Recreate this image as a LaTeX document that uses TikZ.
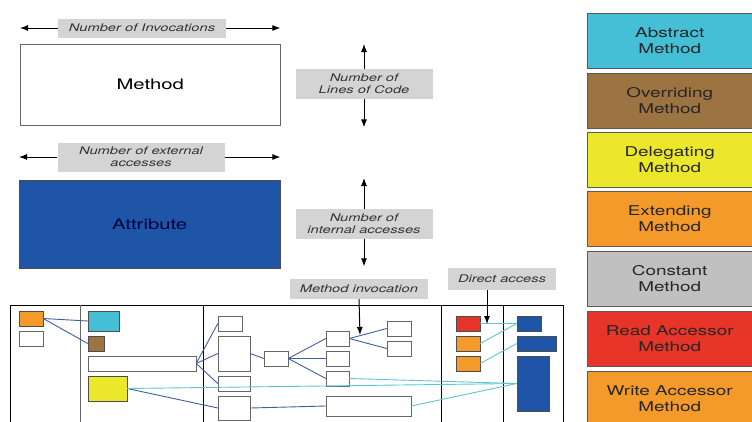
\documentclass[tikz,border=0pt]{standalone}
\usepackage{fontspec}
\setmainfont{TeX Gyre Heros}[FakeStretch=1.4]
\usepackage{tikz}
\usetikzlibrary{arrows,arrows.meta,positioning,calc,fit}

\definecolor{attrblue}{HTML}{1F55A6}
\definecolor{tagGray}{HTML}{D4D4D4}
\definecolor{linkblue}{HTML}{3B5FA0}
\definecolor{linkcyan}{HTML}{5EC5D2}
\definecolor{absCol}{HTML}{45BFD6}
\definecolor{ovrCol}{HTML}{9C7442}
\definecolor{dlgCol}{HTML}{EBE82B}
\definecolor{extCol}{HTML}{F39A2A}
\definecolor{cstCol}{HTML}{C0C0C0}
\definecolor{rdCol}{HTML}{E8352A}

\tikzset{
  box/.style={draw=gray!80!black, fill=white, inner sep=0pt},
  fbox/.style={draw=black!70, inner sep=0pt},
  tag/.style={fill=tagGray, text=black!80, inner sep=0pt, align=center,
              font=\fontsize{10.5}{12}\selectfont\itshape},
  legend/.style={draw=gray!70!black, inner sep=0pt, anchor=north west,
                 minimum width=165pt, minimum height=55pt, align=center,
                 text=black!85, font=\fontsize{13.5}{16}\selectfont},
  inv/.style={linkblue, line width=0.9pt},
  acc/.style={linkcyan, line width=0.9pt},
  tip/.style={-{Latex[length=8pt,width=6pt]}, line width=1pt}
}

\begin{document}
\begin{tikzpicture}[x=1pt,y=-1pt]
  \useasboundingbox (0,0) rectangle (752,421);

  % Method and its metrics
  \node[box, anchor=north west, minimum width=260pt, minimum height=81pt,
        font=\fontsize{14.5}{16}\selectfont] (method) at (20,44) {Method};
  \node[tag, minimum width=168pt, minimum height=19pt] (ninv) at (142,28) {Number of Invocations};
  \draw[tip] (ninv.west) -- (ninv.west -| method.west);
  \draw[tip] (ninv.east) -- (ninv.east -| method.east);
  \node[tag, minimum width=137pt, minimum height=30pt] (nloc) at (364,84) {Number of\\Lines of Code};
  \draw[tip] (nloc.north) -- (nloc.north |- method.north);
  \draw[tip] (nloc.south) -- ($(nloc.south |- method.south)+(0,2)$);

  % Attribute and its metrics
  \node[fbox, fill=attrblue, anchor=north west, minimum width=261pt, minimum height=88pt,
        text=black!75!blue, font=\fontsize{14.5}{16}\selectfont] (attr) at (19,180) {Attribute};
  \node[tag, minimum width=167pt, minimum height=29pt] (next) at (141,157) {Number of external\\accesses};
  \draw[tip] (next.west) -- (next.west -| attr.west);
  \draw[tip] (next.east) -- (next.east -| attr.east);
  \node[tag, minimum width=137pt, minimum height=30pt] (nint) at (364,224) {Number of\\internal accesses};
  \draw[tip] (nint.north) -- ($(nint.north |- attr.north)+(0,-2)$);
  \draw[tip] (nint.south) -- ($(nint.south |- attr.south)+(0,-2)$);

  % Class blueprint frame
  \draw[line width=1pt] (10,423) -- (10,305) -- (563,305) -- (563,423);
  \draw[gray!80!black, line width=0.8pt] (80,305) -- (80,423);
  \foreach \x in {203,441,503}
    \draw[line width=0.8pt] (\x,305) -- (\x,423);

  % Initialize and interface layers
  \node[fbox, fill=extCol, fit={(19,311) (43,326)}] (ext) {};
  \node[box, fit={(19,331) (43,346)}] (ini) {};
  \node[fbox, fill=absCol, fit={(88,311) (119,331)}] (abs) {};
  \node[fbox, fill=ovrCol, fit={(88,336) (104,351)}] (ovr) {};
  \node[box, fit={(88,356) (196,371)}] (pub) {};
  \node[fbox, fill=dlgCol, fit={(88,376) (127,401)}] (dlg) {};

  % Internal implementation layer
  \node[box, fit={(218,316) (242,331)}] (m1) {};
  \node[box, fit={(218,336) (250,371)}] (m2) {};
  \node[box, fit={(218,376) (250,391)}] (m3) {};
  \node[box, fit={(218,396) (250,420)}] (m4) {};
  \node[box, fit={(264,351) (288,366)}] (m5) {};
  \node[box, fit={(326,331) (349,346)}] (m6) {};
  \node[box, fit={(326,351) (349,366)}] (m7) {};
  \node[box, fit={(326,371) (349,386)}] (m8) {};
  \node[box, fit={(387,321) (411,336)}] (m9) {};
  \node[box, fit={(387,341) (411,356)}] (m10) {};
  \node[box, fit={(326,396) (411,416)}] (m11) {};

  % Accessor and attribute layers
  \node[fbox, fill=rdCol, fit={(456,316) (480,331)}] (rd) {};
  \node[fbox, fill=extCol, fit={(456,336) (480,351)}] (wr1) {};
  \node[fbox, fill=extCol, fit={(456,356) (480,371)}] (wr2) {};
  \node[fbox, fill=attrblue, fit={(517,316) (541,331)}] (at1) {};
  \node[fbox, fill=attrblue, fit={(517,336) (556,351)}] (at2) {};
  \node[fbox, fill=attrblue, fit={(517,356) (549,411)}] (at3) {};

  % Invocations
  \draw[inv] (ext.east) -- (abs.west);
  \draw[inv] (ext.east) -- (ovr.west);
  \foreach \t in {m1,m2,m3}
    \draw[inv] (pub.east) -- (\t.west);
  \draw[inv] (dlg.east) -- (m4.west);
  \draw[inv] (m2.east) -- (m5.west);
  \foreach \t in {m6,m7,m8}
    \draw[inv] (m5.east) -- (\t.west);
  \draw[inv] (m6.east) -- (m9.west);
  \draw[inv] (m6.east) -- (m10.west);
  \draw[inv] (m4.east) -- (m11.west);

  % Accesses
  \draw[acc] (dlg.east) -- (at3.west);
  \draw[acc] (m8.east) -- (at3.west);
  \draw[acc] (m11.east) -- (at3.west);
  \draw[acc] (rd.east) -- (at1.west);
  \draw[acc] (wr1.east) -- (at1.west);
  \draw[acc] (wr2.east) -- (at2.west);

  % Edge labels
  \node[tag, minimum width=138pt, minimum height=20pt] (linv) at (359,289) {Method invocation};
  \draw[tip] (linv.south) -- (360,335);
  \node[tag, minimum width=108pt, minimum height=22pt] (lacc) at (502,279) {Direct access};
  \draw[tip] (lacc.south -| 487,0) -- (487,324);

  % Legend
  \node[legend, fill=absCol] (labs) at (587,13) {Abstract\\Method};
  \node[legend, fill=ovrCol] (lovr) at (587,73) {Overriding\\Method};
  \node[legend, fill=dlgCol] (ldlg) at (587,132) {Delegating\\Method};
  \node[legend, fill=extCol] (lext) at (587,191) {Extending\\Method};
  \node[legend, fill=cstCol] (lcst) at (587,251) {Constant\\Method};
  \node[legend, fill=rdCol] (lrd) at (587,311) {Read Accessor\\Method};
  \node[legend, fill=extCol] (lwr) at (587,371) {Write Accessor\\Method};
\end{tikzpicture}
\end{document}
